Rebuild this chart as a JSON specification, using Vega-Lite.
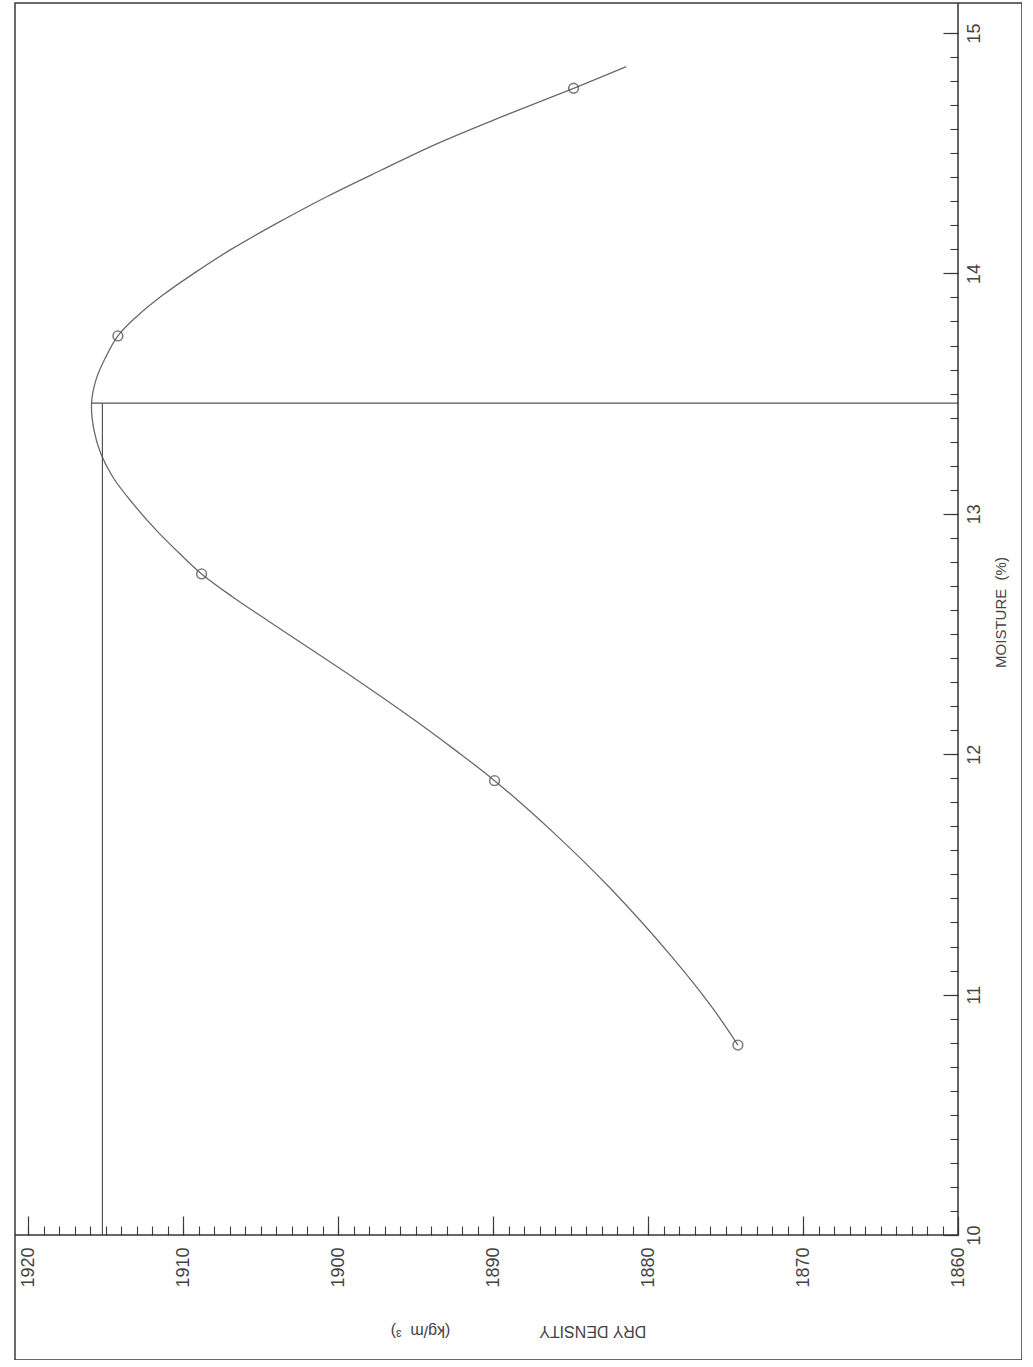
{
  "$schema": "https://vega.github.io/schema/vega-lite/v6.json",
  "width": 1007,
  "height": 1357,
  "autosize": "none",
  "padding": {"left": 15, "top": 3, "right": 0, "bottom": 0},
  "background": "white",
  "config": {
    "view": {"stroke": "#3a3a3a", "strokeWidth": 1.5},
    "font": "Liberation Sans",
    "axis": {"grid": false, "domain": false, "labelOverlap": false, "labelFlush": false, "labelBound": false}
  },
  "datasets": {
    "curve": [
      {"i": 1, "density": 1874.2, "moisture": 10.79},
      {"i": 2, "density": 1875.9, "moisture": 10.95},
      {"i": 3, "density": 1878.5, "moisture": 11.16},
      {"i": 4, "density": 1882.4, "moisture": 11.44},
      {"i": 5, "density": 1886.2, "moisture": 11.68},
      {"i": 6, "density": 1889.9, "moisture": 11.89},
      {"i": 7, "density": 1892.5, "moisture": 12.02},
      {"i": 8, "density": 1894.8, "moisture": 12.13},
      {"i": 9, "density": 1898.8, "moisture": 12.31},
      {"i": 10, "density": 1904.4, "moisture": 12.55},
      {"i": 11, "density": 1906.7, "moisture": 12.65},
      {"i": 12, "density": 1908.8, "moisture": 12.75},
      {"i": 13, "density": 1910.3, "moisture": 12.84},
      {"i": 14, "density": 1911.7, "moisture": 12.93},
      {"i": 15, "density": 1913.2, "moisture": 13.04},
      {"i": 16, "density": 1914.5, "moisture": 13.15},
      {"i": 17, "density": 1915.3, "moisture": 13.25},
      {"i": 18, "density": 1915.75, "moisture": 13.35},
      {"i": 19, "density": 1915.9, "moisture": 13.46},
      {"i": 20, "density": 1915.6, "moisture": 13.56},
      {"i": 21, "density": 1915.0, "moisture": 13.65},
      {"i": 22, "density": 1914.2, "moisture": 13.74},
      {"i": 23, "density": 1913.0, "moisture": 13.82},
      {"i": 24, "density": 1911.3, "moisture": 13.91},
      {"i": 25, "density": 1909.3, "moisture": 14.0},
      {"i": 26, "density": 1906.9, "moisture": 14.1},
      {"i": 27, "density": 1903.9, "moisture": 14.21},
      {"i": 28, "density": 1900.7, "moisture": 14.32},
      {"i": 29, "density": 1897.2, "moisture": 14.43},
      {"i": 30, "density": 1893.6, "moisture": 14.54},
      {"i": 31, "density": 1889.5, "moisture": 14.65},
      {"i": 32, "density": 1884.8, "moisture": 14.77},
      {"i": 33, "density": 1881.4, "moisture": 14.86}
    ],
    "tests": [
      {"density": 1874.2, "moisture": 10.79},
      {"density": 1889.9, "moisture": 11.89},
      {"density": 1908.8, "moisture": 12.75},
      {"density": 1914.2, "moisture": 13.74},
      {"density": 1884.8, "moisture": 14.77}
    ],
    "guides": [
      {"name": "OMC", "d1": 1915.9, "d2": 1860, "m1": 13.46, "m2": 13.46},
      {"name": "MDD", "d1": 1915.2, "d2": 1915.2, "m1": 13.46, "m2": 10}
    ],
    "axislines": [
      {"name": "density axis", "d1": 1920.839, "d2": 1860, "m1": 10, "m2": 10},
      {"name": "moisture axis", "d1": 1860, "d2": 1860, "m1": 10, "m2": 15.1248}
    ]
  },
  "layer": [
    {
      "data": {"name": "curve"},
      "mark": {"type": "line", "interpolate": "catmull-rom", "color": "#6a6a6a", "strokeWidth": 1.3},
      "encoding": {
        "x": {
          "field": "density", "type": "quantitative",
          "scale": {"domain": [1855.871, 1920.839], "reverse": true, "nice": false, "zero": false},
          "axis": {
            "orient": "bottom", "offset": -125,
            "values": [1860, 1870, 1880, 1890, 1900, 1910, 1920],
            "format": "d",
            "tickSize": -19, "tickColor": "#3a3a3a", "tickWidth": 1.2,
            "labelAngle": 270, "labelAlign": "right", "labelBaseline": "middle",
            "labelPadding": 31, "labelFontSize": 18, "labelColor": "#444",
            "title": "DRY DENSITY\u00a0\u00a0\u00a0\u00a0\u00a0\u00a0\u00a0\u00a0\u00a0\u00a0\u00a0\u00a0\u00a0\u00a0\u00a0\u00a0\u00a0\u00a0\u00a0\u00a0(kg/m\u00a0\u00a0³)",
            "titleAngle": 180, "titleX": 503, "titleY": 95,
            "titleAlign": "center", "titleBaseline": "middle",
            "titleFontSize": 16, "titleFontWeight": "normal", "titleColor": "#444"
          }
        },
        "y": {
          "field": "moisture", "type": "quantitative",
          "scale": {"domain": [9.48, 15.1248], "nice": false, "zero": false},
          "axis": {
            "orient": "right", "offset": -64,
            "values": [10, 11, 12, 13, 14, 15],
            "format": "d",
            "tickSize": -15, "tickColor": "#3a3a3a", "tickWidth": 1.2,
            "labelAngle": 270, "labelAlign": "center", "labelBaseline": "top",
            "labelPadding": 22, "labelFontSize": 18, "labelColor": "#444",
            "title": "MOISTURE\u00a0\u00a0(%)",
            "titleAngle": 270, "titleX": 42, "titleY": 609,
            "titleAlign": "center", "titleBaseline": "middle",
            "titleFontSize": 15, "titleFontWeight": "normal", "titleColor": "#444"
          }
        },
        "order": {"field": "i", "type": "quantitative"}
      }
    },
    {
      "data": {"name": "tests"},
      "mark": {"type": "point", "shape": "circle", "filled": false, "size": 95, "strokeWidth": 1.6, "color": "#4a4a4a"},
      "encoding": {
        "x": {
          "field": "density", "type": "quantitative",
          "scale": {"domain": [1855.871, 1920.839], "reverse": true, "nice": false, "zero": false},
          "axis": {
            "orient": "bottom", "offset": -125,
            "values": [1860,1861,1862,1863,1864,1865,1866,1867,1868,1869,1870,1871,1872,1873,1874,1875,1876,1877,1878,1879,1880,1881,1882,1883,1884,1885,1886,1887,1888,1889,1890,1891,1892,1893,1894,1895,1896,1897,1898,1899,1900,1901,1902,1903,1904,1905,1906,1907,1908,1909,1910,1911,1912,1913,1914,1915,1916,1917,1918,1919,1920],
            "tickSize": -9, "tickColor": "#3a3a3a", "tickWidth": 1.1,
            "labels": false, "title": null
          }
        },
        "y": {
          "field": "moisture", "type": "quantitative",
          "scale": {"domain": [9.48, 15.1248], "nice": false, "zero": false},
          "axis": {
            "orient": "right", "offset": -64,
            "values": [10,10.1,10.2,10.3,10.4,10.5,10.6,10.7,10.8,10.9,11,11.1,11.2,11.3,11.4,11.5,11.6,11.7,11.8,11.9,12,12.1,12.2,12.3,12.4,12.5,12.6,12.7,12.8,12.9,13,13.1,13.2,13.3,13.4,13.5,13.6,13.7,13.8,13.9,14,14.1,14.2,14.3,14.4,14.5,14.6,14.7,14.8,14.9,15],
            "tickSize": -8, "tickColor": "#3a3a3a", "tickWidth": 1.1,
            "labels": false, "title": null
          }
        }
      }
    },
    {
      "data": {"name": "guides"},
      "mark": {"type": "rule", "color": "#555", "strokeWidth": 1.2},
      "encoding": {
        "x": {"field": "d1", "type": "quantitative", "scale": {"domain": [1855.871, 1920.839], "reverse": true, "nice": false, "zero": false}, "axis": null},
        "x2": {"field": "d2"},
        "y": {"field": "m1", "type": "quantitative", "scale": {"domain": [9.48, 15.1248], "nice": false, "zero": false}, "axis": null},
        "y2": {"field": "m2"}
      }
    },
    {
      "data": {"name": "axislines"},
      "mark": {"type": "rule", "color": "#333", "strokeWidth": 1.5},
      "encoding": {
        "x": {"field": "d1", "type": "quantitative", "scale": {"domain": [1855.871, 1920.839], "reverse": true, "nice": false, "zero": false}, "axis": null},
        "x2": {"field": "d2"},
        "y": {"field": "m1", "type": "quantitative", "scale": {"domain": [9.48, 15.1248], "nice": false, "zero": false}, "axis": null},
        "y2": {"field": "m2"}
      }
    }
  ],
  "resolve": {"axis": {"x": "independent", "y": "independent"}}
}
